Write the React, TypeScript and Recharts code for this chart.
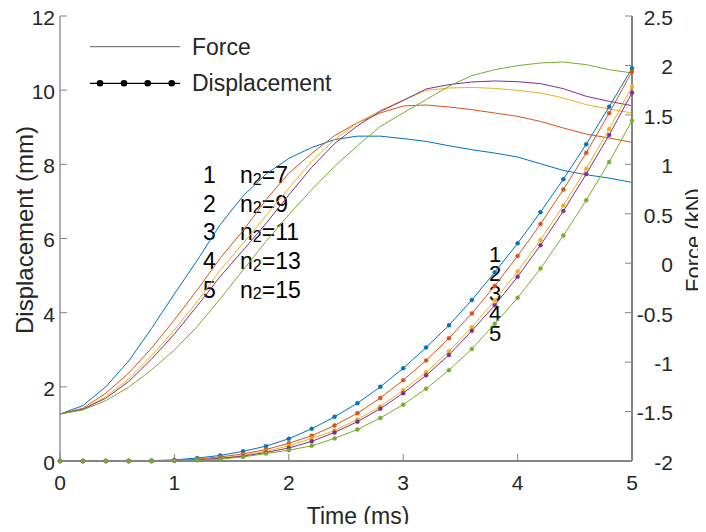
import { LineChart, Line, XAxis, YAxis } from "recharts";

// time samples (ms)
const time = [0, 0.2, 0.4, 0.6, 0.8, 1.0, 1.2, 1.4, 1.6, 1.8, 2.0, 2.2, 2.4, 2.6, 2.8, 3.0, 3.2, 3.4, 3.6, 3.8, 4.0, 4.2, 4.4, 4.6, 4.8, 5.0];

// displacement (mm), one list per n2
const dispN7 = [0, 0, 0, 0, 0.01, 0.03, 0.08, 0.15, 0.26, 0.4, 0.6, 0.87, 1.19, 1.56, 2.0, 2.5, 3.06, 3.66, 4.34, 5.09, 5.87, 6.71, 7.6, 8.54, 9.55, 10.59];
const dispN9 = [0, 0, 0, 0, 0, 0.02, 0.05, 0.11, 0.19, 0.31, 0.48, 0.68, 0.96, 1.29, 1.7, 2.18, 2.71, 3.31, 3.98, 4.72, 5.53, 6.39, 7.32, 8.31, 9.38, 10.5];
const dispN11 = [0, 0, 0, 0, 0, 0.01, 0.04, 0.08, 0.15, 0.26, 0.41, 0.61, 0.82, 1.12, 1.47, 1.91, 2.39, 2.96, 3.61, 4.33, 5.11, 5.96, 6.89, 7.88, 8.95, 10.09];
const dispN13 = [0, 0, 0, 0, 0, 0.01, 0.03, 0.07, 0.13, 0.23, 0.35, 0.53, 0.77, 1.06, 1.41, 1.83, 2.31, 2.86, 3.51, 4.2, 4.97, 5.82, 6.74, 7.74, 8.79, 9.93];
const dispN15 = [0, 0, 0, 0, 0, 0.01, 0.02, 0.05, 0.11, 0.2, 0.29, 0.41, 0.61, 0.85, 1.16, 1.52, 1.95, 2.45, 3.02, 3.7, 4.4, 5.19, 6.08, 7.03, 8.06, 9.18];

// force (kN), one list per n2
const forceN7 = [-1.525, -1.44, -1.25, -0.99, -0.66, -0.31, 0.03, 0.39, 0.68, 0.9, 1.06, 1.17, 1.25, 1.285, 1.285, 1.26, 1.232, 1.188, 1.148, 1.114, 1.074, 1.006, 0.938, 0.895, 0.861, 0.817];
const forceN9 = [-1.525, -1.467, -1.315, -1.112, -0.859, -0.573, -0.269, 0.05, 0.33, 0.64, 0.91, 1.11, 1.29, 1.42, 1.52, 1.59, 1.6, 1.58, 1.553, 1.519, 1.485, 1.434, 1.367, 1.306, 1.266, 1.222];
const forceN11 = [-1.525, -1.477, -1.35, -1.17, -0.937, -0.674, -0.388, -0.07, 0.2, 0.48, 0.76, 1.03, 1.25, 1.42, 1.545, 1.65, 1.748, 1.772, 1.778, 1.768, 1.748, 1.722, 1.671, 1.603, 1.56, 1.519];
const forceN13 = [-1.525, -1.477, -1.365, -1.197, -0.97, -0.715, -0.431, -0.135, 0.13, 0.4, 0.69, 0.97, 1.21, 1.39, 1.535, 1.645, 1.762, 1.806, 1.833, 1.843, 1.836, 1.816, 1.765, 1.688, 1.637, 1.593];
const forceN15 = [-1.525, -1.484, -1.39, -1.254, -1.079, -0.877, -0.64, -0.36, -0.07, 0.22, 0.49, 0.743, 0.979, 1.188, 1.383, 1.52, 1.654, 1.789, 1.897, 1.957, 1.998, 2.025, 2.035, 2.008, 1.957, 1.924];

const n2Values = [7, 9, 11, 13, 15];
const colors = ["#0072BD", "#D95319", "#EDB120", "#7E2F8E", "#77AC30"];

const timeTicks = [0, 1, 2, 3, 4, 5];
const dispTicks = [0, 2, 4, 6, 8, 10, 12];
const forceTicks = [-2, -1.5, -1, -0.5, 0, 0.5, 1, 1.5, 2, 2.5];

const displacements = [dispN7, dispN9, dispN11, dispN13, dispN15];
const forces = [forceN7, forceN9, forceN11, forceN13, forceN15];

const data = time.map((t, i) => {
  const row: Record<string, number> = { t };
  displacements.forEach((d, k) => (row["d" + k] = d[i]));
  forces.forEach((f, k) => (row["f" + k] = f[i]));
  return row;
});

const FONT = "'Liberation Sans', Arial, sans-serif";
const TEXT = "#262626";
const AXIS = "#858585";

const tickStyle = { fill: TEXT, fontSize: 21, fontFamily: FONT };

// both y axes put their labels right-aligned, a little under the tick
function EndTick(props: any) {
  const { x, y, payload } = props;
  return (
    <text x={x} y={y + 1.5} dy="0.35em" textAnchor="end" style={tickStyle}>
      {payload.value}
    </text>
  );
}

function NoTick() {
  return <g />;
}

export default function App() {
  // the wrapper cancels the body margin so chart pixels = page pixels
  return (
    <div style={{ margin: -8, width: 706, height: 532, overflow: "hidden" }}>
      <LineChart
        width={706}
        height={532}
        data={data}
        margin={{ top: 16, right: 0, bottom: 0, left: 0 }}
        style={{ fontFamily: FONT }}
      >
        <XAxis
          dataKey="t"
          type="number"
          domain={[0, 5]}
          ticks={timeTicks}
          height={71}
          tickSize={-7}
          tickMargin={21}
          tick={tickStyle}
          stroke={AXIS}
          axisLine={{ stroke: AXIS, strokeWidth: 2 }}
        />
        <XAxis
          xAxisId="top"
          orientation="top"
          dataKey="t"
          type="number"
          domain={[0, 5]}
          ticks={timeTicks}
          height={0}
          tickSize={-7}
          tick={<NoTick />}
          stroke={AXIS}
          axisLine={{ stroke: AXIS, strokeWidth: 1.3 }}
        />
        <YAxis
          yAxisId="left"
          domain={[0, 12]}
          ticks={dispTicks}
          width={60}
          tickSize={-7}
          tickMargin={12}
          tick={<EndTick />}
          stroke={AXIS}
          axisLine={{ stroke: AXIS, strokeWidth: 1.3 }}
        />
        <YAxis
          yAxisId="right"
          orientation="right"
          domain={[-2, 2.5]}
          ticks={forceTicks}
          width={74}
          tickSize={-7}
          tickMargin={48}
          tick={<EndTick />}
          stroke={AXIS}
          axisLine={{ stroke: AXIS, strokeWidth: 2 }}
        />

        {forces.map((_, k) => (
          <Line
            key={"f" + k}
            yAxisId="right"
            dataKey={"f" + k}
            type="linear"
            stroke={colors[k]}
            strokeWidth={1}
            dot={false}
            activeDot={false}
            isAnimationActive={false}
          />
        ))}
        {displacements.map((_, k) => (
          <Line
            key={"d" + k}
            yAxisId="left"
            dataKey={"d" + k}
            type="linear"
            stroke={colors[k]}
            strokeWidth={1}
            dot={{ r: 2, fill: colors[k], stroke: colors[k], strokeWidth: 0.5 }}
            activeDot={false}
            isAnimationActive={false}
          />
        ))}

        {/* legend */}
        <g fontFamily={FONT} fontSize={23} fill={TEXT}>
          <line x1={90} x2={180} y1={46.7} y2={46.7} stroke="#7f7f7f" strokeWidth={1.3} />
          <text x={192} y={46.5} dy="0.35em">Force</text>
          <line x1={90} x2={180} y1={83.3} y2={83.3} stroke="#000" strokeWidth={1.3} />
          {[100, 124, 147.7, 171.7].map((cx) => (
            <circle key={cx} cx={cx} cy={83.3} r={3.3} fill="#000" />
          ))}
          <text x={192} y={83} dy="0.35em">Displacement</text>
        </g>

        {/* case labels */}
        <g fontFamily={FONT} fontSize={23} fill="#000">
          {n2Values.map((n, k) => (
            <text key={"c" + k} x={203} y={175 + k * 28.7} dy="0.35em">
              {k + 1}
            </text>
          ))}
          {n2Values.map((n, k) => (
            <text key={"n" + k} x={240} y={175 + k * 28.7} dy="0.35em">
              <tspan>n</tspan>
              <tspan fontSize={16} dy={1.5}>2</tspan>
              <tspan dy={-1.5}>={n}</tspan>
            </text>
          ))}
          {n2Values.map((n, k) => (
            <text key={"r" + k} x={489} y={254 + k * 19.7} dy="0.35em" fontSize={22}>
              {k + 1}
            </text>
          ))}
        </g>

        {/* axis titles */}
        <g fontFamily={FONT} fill={TEXT}>
          <text x={358} y={524} textAnchor="middle" fontSize={23}>Time (ms)</text>
          <text x={25} y={230} dy="0.35em" textAnchor="middle" fontSize={24} transform="rotate(-90 25 230)">
            Displacement (mm)
          </text>
          <text x={693} y={240} dy="0.35em" textAnchor="middle" fontSize={22} transform="rotate(-90 693 240)">
            Force (kN)
          </text>
        </g>
      </LineChart>
    </div>
  );
}
